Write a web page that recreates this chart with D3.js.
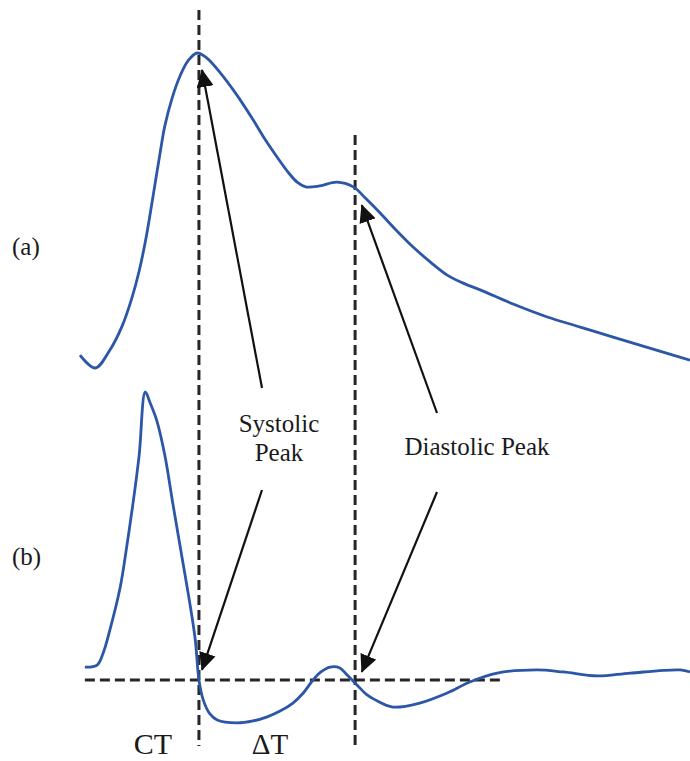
<!DOCTYPE html>
<html>
<head>
<meta charset="utf-8">
<script src="https://cdn.jsdelivr.net/npm/d3@7"></script>
<style>
  html, body { margin: 0; padding: 0; background: #fff; }
  svg { display: block; }
  text { font-family: "Liberation Serif", "Times New Roman", serif; fill: #1a1a1a; }
</style>
</head>
<body>
<svg id="chart" width="690" height="761"></svg>
<script>
// (a) pulse waveform: time (s) and normalised amplitude
const pulseTime = [0.000, 0.025, 0.049, 0.069, 0.085, 0.097, 0.107, 0.115, 0.123, 0.131, 0.139, 0.151, 0.164, 0.177, 0.192, 0.208, 0.230, 0.257, 0.284, 0.303, 0.323, 0.341, 0.356, 0.370, 0.393, 0.421, 0.448, 0.469, 0.492, 0.518, 0.546, 0.574, 0.602, 0.631, 0.656, 0.710, 0.766, 0.820, 0.874, 0.934, 1.000];
const pulseValue = [0.041, 0.000, 0.057, 0.133, 0.222, 0.308, 0.400, 0.489, 0.584, 0.679, 0.768, 0.857, 0.927, 0.975, 1.000, 0.984, 0.937, 0.867, 0.787, 0.727, 0.670, 0.622, 0.590, 0.575, 0.578, 0.590, 0.575, 0.537, 0.492, 0.438, 0.384, 0.337, 0.295, 0.267, 0.248, 0.203, 0.162, 0.130, 0.098, 0.063, 0.025];

// (b) first derivative of the pulse
const derivTime = [0.008, 0.028, 0.038, 0.049, 0.066, 0.077, 0.087, 0.097, 0.107, 0.115, 0.126, 0.139, 0.152, 0.166, 0.180, 0.189, 0.195, 0.202, 0.213, 0.225, 0.257, 0.284, 0.307, 0.328, 0.349, 0.366, 0.382, 0.395, 0.410, 0.426, 0.438, 0.454, 0.469, 0.484, 0.513, 0.557, 0.602, 0.639, 0.684, 0.749, 0.792, 0.848, 0.902, 0.984, 1.000];
const derivValue = [0.045, 0.052, 0.094, 0.174, 0.323, 0.469, 0.615, 0.781, 1.000, 0.962, 0.900, 0.781, 0.615, 0.441, 0.267, 0.139, 0.000, -0.069, -0.118, -0.139, -0.149, -0.142, -0.128, -0.108, -0.080, -0.045, 0.000, 0.028, 0.045, 0.042, 0.017, -0.017, -0.049, -0.069, -0.094, -0.080, -0.045, -0.007, 0.024, 0.035, 0.028, 0.014, 0.024, 0.035, 0.028];

// Marker times (s): systolic and diastolic peaks
const markerNames = ["Systolic", "Diastolic"];
const markerTime = [0.195, 0.451];

// Annotation arrow tips: time and value on each panel
const arrowTipTime = [0.200, 0.462];
const arrowTipPulse = [0.946, 0.517];
const arrowTipDeriv = [0.035, 0.028];

// Baseline (zero) extent of the derivative panel
const baselineTime = [0.008, 0.689];

const svg = d3.select("#chart");

const x = d3.scaleLinear().domain([0, 1]).range([80, 690]);
const yA = d3.scaleLinear().domain([0, 1]).range([368, 53]);
const yB = d3.scaleLinear().domain([0, 1]).range([680, 392]);

const blue = "#2c56a6";
const dashCol = "#262626";

// Arrowhead marker
svg.append("defs").append("marker")
  .attr("id", "head")
  .attr("markerUnits", "userSpaceOnUse")
  .attr("viewBox", "0 -9 18 18")
  .attr("refX", 17).attr("refY", 0)
  .attr("markerWidth", 18).attr("markerHeight", 18)
  .attr("orient", "auto")
  .append("path")
  .attr("d", "M0,-8.5L18,0L0,8.5Z")
  .attr("fill", "#111");

// Dashed reference lines
const dash = "10,5";
svg.append("line")
  .attr("x1", x(baselineTime[0])).attr("x2", x(baselineTime[1]))
  .attr("y1", yB(0)).attr("y2", yB(0))
  .attr("stroke", dashCol).attr("stroke-width", 3).attr("stroke-dasharray", dash);

const vTop = [10, 135];
markerTime.forEach((t, i) => {
  svg.append("line")
    .attr("x1", x(t)).attr("x2", x(t))
    .attr("y1", vTop[i]).attr("y2", 746)
    .attr("stroke", dashCol).attr("stroke-width", 3).attr("stroke-dasharray", dash);
});

// Curves
const pulse = pulseTime.map((t, i) => [t, pulseValue[i]]);
const deriv = derivTime.map((t, i) => [t, derivValue[i]]);
const smooth = d3.curveCatmullRom.alpha(0.5);

svg.append("path")
  .datum(pulse)
  .attr("fill", "none")
  .attr("stroke", blue)
  .attr("stroke-width", 2.8)
  .attr("stroke-linejoin", "round")
  .attr("d", d3.line().x(d => x(d[0])).y(d => yA(d[1])).curve(smooth));

svg.append("path")
  .datum(deriv)
  .attr("fill", "none")
  .attr("stroke", blue)
  .attr("stroke-width", 2.8)
  .attr("stroke-linejoin", "round")
  .attr("d", d3.line().x(d => x(d[0])).y(d => yB(d[1])).curve(smooth));

// Annotation arrows from labels to the peaks
const tailX = [262, 437];
const tailUpY = [388, 413];
const tailDownY = [490, 492];
markerNames.forEach((n, i) => {
  svg.append("line")
    .attr("x1", tailX[i]).attr("y1", tailUpY[i])
    .attr("x2", x(arrowTipTime[i])).attr("y2", yA(arrowTipPulse[i]))
    .attr("stroke", "#111").attr("stroke-width", 2.2).attr("marker-end", "url(#head)");
  svg.append("line")
    .attr("x1", tailX[i]).attr("y1", tailDownY[i])
    .attr("x2", x(arrowTipTime[i])).attr("y2", yB(arrowTipDeriv[i]))
    .attr("stroke", "#111").attr("stroke-width", 2.2).attr("marker-end", "url(#head)");
});

// Labels
svg.append("text").attr("x", 279).attr("y", 432).attr("text-anchor", "middle")
  .attr("font-size", 25).text("Systolic");
svg.append("text").attr("x", 279).attr("y", 461).attr("text-anchor", "middle")
  .attr("font-size", 25).text("Peak");
svg.append("text").attr("x", 477).attr("y", 455).attr("text-anchor", "middle")
  .attr("font-size", 25).text("Diastolic Peak");

svg.append("text").attr("x", 12).attr("y", 255).attr("font-size", 25).text("(a)");
svg.append("text").attr("x", 12).attr("y", 565).attr("font-size", 25).text("(b)");

svg.append("text").attr("x", 153).attr("y", 754).attr("text-anchor", "middle")
  .attr("font-size", 30).text("CT");
svg.append("text").attr("x", 270).attr("y", 754).attr("text-anchor", "middle")
  .attr("font-size", 29).text("ΔT");
</script>
</body>
</html>
